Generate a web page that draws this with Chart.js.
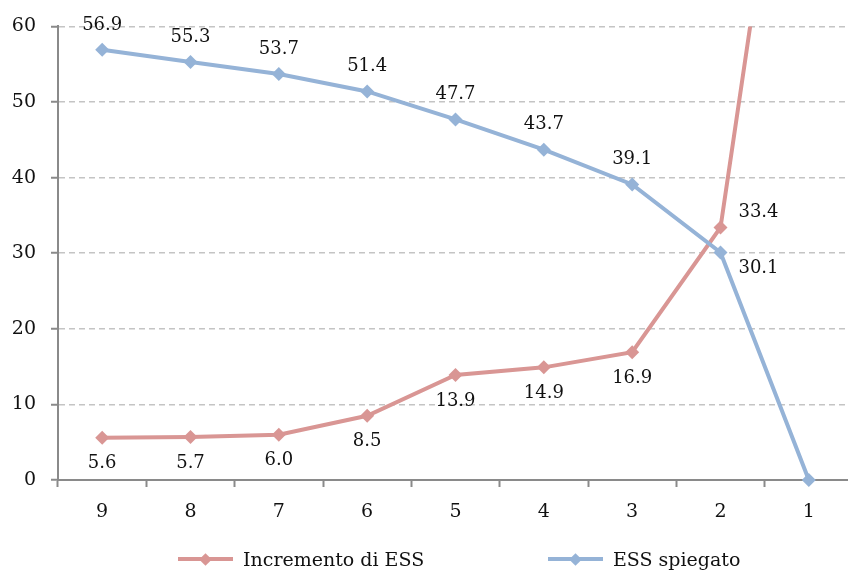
<!DOCTYPE html>
<html>
<head>
<meta charset="utf-8">
<script src="https://cdn.jsdelivr.net/npm/chart.js@4/dist/chart.umd.min.js"></script>
<style>
  html, body { margin: 0; padding: 0; overflow: hidden; background: #fff; }
  #wrap { position: relative; width: 860px; height: 573px; }
  .legend-item {
    position: absolute; top: 547px; height: 24px;
    display: flex; align-items: center;
    font-family: 'DejaVu Serif', serif; font-size: 19px; color: #111;
    white-space: nowrap;
  }
  .marker { position: relative; width: 55px; height: 4px; margin-right: 10px; }
  .marker::after {
    content: ''; position: absolute; left: 23px; top: -2.5px;
    width: 9px; height: 9px; transform: rotate(45deg); background: inherit;
  }
</style>
</head>
<body>
<div id="wrap">
  <canvas id="grafico" width="860" height="573"></canvas>
  <div class="legend-item" style="left:178px"><span class="marker" style="background:#D99694"></span>Incremento di ESS</div>
  <div class="legend-item" style="left:548px"><span class="marker" style="background:#95B3D7"></span>ESS spiegato</div>
</div>
<script>
// dati
const categorie = ['9', '8', '7', '6', '5', '4', '3', '2', '1'];
const incrementoESS = [5.6, 5.7, 6.0, 8.5, 13.9, 14.9, 16.9, 33.4, 112.6];
const essSpiegato = [56.9, 55.3, 53.7, 51.4, 47.7, 43.7, 39.1, 30.1, 0];
const yMin = 0;
const yMax = 60;
const yStep = 10;

const ROSSO = '#D99694';
const BLU = '#95B3D7';
const ASSE = '#8a8a8a';

// etichette dei valori: sotto per la serie rossa, sopra per la blu,
// a destra vicino all'incrocio
const etichettePlugin = {
  id: 'etichette',
  afterDatasetsDraw(chart) {
    const ctx = chart.ctx;
    ctx.save();
    ctx.font = '18px "DejaVu Serif"';
    ctx.fillStyle = '#111';
    ctx.textAlign = 'center';
    ctx.textBaseline = 'middle';
    chart.data.datasets.forEach((ds, d) => {
      const meta = chart.getDatasetMeta(d);
      meta.data.forEach((pt, i) => {
        const v = ds.data[i];
        if (v <= yMin || v > yMax) return;
        let dx = 0, dy = ds.sotto ? 26 : -25;
        if (i === ds.aDestra) {
          dx = 38;
          dy = ds.sotto ? -15 : 16;
        }
        ctx.fillText(v.toFixed(1), pt.x + dx, pt.y + dy);
      });
    });
    ctx.restore();
  }
};

const ctx = document.getElementById('grafico').getContext('2d');
new Chart(ctx, {
  type: 'line',
  data: {
    labels: categorie,
    datasets: [
      {
        label: 'Incremento di ESS',
        data: incrementoESS,
        borderColor: ROSSO,
        backgroundColor: ROSSO,
        borderWidth: 4,
        pointStyle: 'rectRot',
        pointRadius: 7,
        pointBorderWidth: 0,
        pointBackgroundColor: ROSSO,
        tension: 0,
        order: 1,
        clip: { left: false, top: 0, right: false, bottom: false },
        sotto: true,
        aDestra: 7,
      },
      {
        label: 'ESS spiegato',
        data: essSpiegato,
        borderColor: BLU,
        backgroundColor: BLU,
        borderWidth: 4,
        pointStyle: 'rectRot',
        pointRadius: 7,
        pointBorderWidth: 0,
        pointBackgroundColor: BLU,
        tension: 0,
        order: 0,
        clip: false,
        sotto: false,
        aDestra: 7,
      },
    ],
  },
  options: {
    responsive: false,
    animation: false,
    layout: { padding: { top: 24, right: 5, left: 0, bottom: 0 } },
    plugins: {
      legend: { display: false },
      tooltip: { enabled: false },
    },
    scales: {
      x: {
        offset: true,
        grid: {
          offset: true,
          drawOnChartArea: false,
          drawTicks: true,
          tickLength: 7,
          tickColor: ASSE,
          tickWidth: 2,
        },
        border: { color: ASSE, width: 2 },
        ticks: {
          padding: 14,
          color: '#111',
          font: { family: 'DejaVu Serif', size: 19 },
        },
        afterFit(scale) { scale.height = 93; },
      },
      y: {
        min: yMin,
        max: yMax,
        ticks: {
          stepSize: yStep,
          padding: 15,
          color: '#111',
          font: { family: 'DejaVu Serif', size: 19 },
        },
        grid: {
          color: '#c4c4c4',
          lineWidth: 1.5,
          tickLength: 7,
          tickColor: ASSE,
          tickWidth: 2,
          tickBorderDash: [],
        },
        border: { color: ASSE, width: 2, dash: [6, 4] },
        afterFit(scale) { scale.width = 58; },
      },
    },
  },
  plugins: [etichettePlugin],
});
</script>
</body>
</html>
